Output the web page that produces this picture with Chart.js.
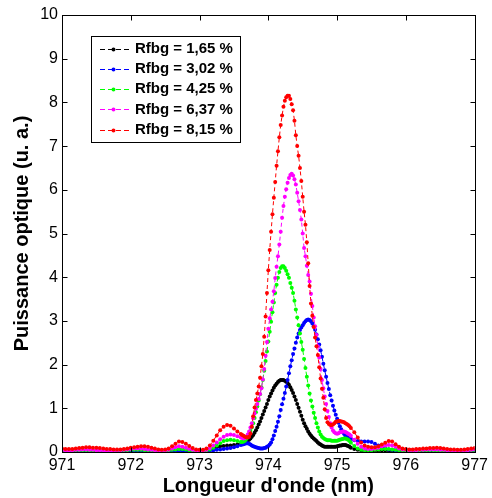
<!DOCTYPE html>
<html>
<head>
<meta charset="utf-8">
<title>Puissance optique</title>
<script src="https://cdn.jsdelivr.net/npm/chart.js@4.4.1/dist/chart.umd.min.js"></script>
<style>
  html, body { margin: 0; padding: 0; background: #fff; }
  #spectre { display: block; }
</style>
</head>
<body>
<canvas id="spectre" width="492" height="498"></canvas>
<script>
// Longueurs d'onde (nm) : pas de 0,05 nm sur les ailes, 0,02 nm autour des pics
const wavelength = [
  971.00, 971.05, 971.10, 971.15, 971.20, 971.25, 971.30, 971.35, 971.40, 971.45,
  971.50, 971.55, 971.60, 971.65, 971.70, 971.75, 971.80, 971.85, 971.90, 971.95,
  972.00, 972.05, 972.10, 972.15, 972.20, 972.25, 972.30, 972.35, 972.40, 972.45,
  972.50, 972.55, 972.60, 972.65, 972.70, 972.75, 972.80, 972.85, 972.90, 972.95,
  973.00, 973.05, 973.10, 973.15, 973.20, 973.25, 973.30, 973.35, 973.40, 973.45,
  973.50, 973.55, 973.60,
  973.62, 973.64, 973.66, 973.68, 973.70, 973.72, 973.74, 973.76, 973.78, 973.80,
  973.82, 973.84, 973.86, 973.88, 973.90, 973.92, 973.94, 973.96, 973.98, 974.00,
  974.02, 974.04, 974.06, 974.08, 974.10, 974.12, 974.14, 974.16, 974.18, 974.20,
  974.22, 974.24, 974.26, 974.28, 974.30, 974.32, 974.34, 974.36, 974.38, 974.40,
  974.42, 974.44, 974.46, 974.48, 974.50, 974.52, 974.54, 974.56, 974.58, 974.60,
  974.62, 974.64, 974.66, 974.68, 974.70, 974.72, 974.74, 974.76, 974.78, 974.80,
  974.82, 974.84, 974.86, 974.88, 974.90, 974.92, 974.94, 974.96, 974.98, 975.00,
  975.02, 975.04, 975.06, 975.08, 975.10, 975.12, 975.14, 975.16, 975.18, 975.20,
  975.25, 975.30, 975.35, 975.40, 975.45, 975.50, 975.55, 975.60, 975.65, 975.70,
  975.75, 975.80, 975.85, 975.90, 975.95,
  976.00, 976.05, 976.10, 976.15, 976.20, 976.25, 976.30, 976.35, 976.40, 976.45,
  976.50, 976.55, 976.60, 976.65, 976.70, 976.75, 976.80, 976.85, 976.90, 976.95,
  977.00
];

// Puissance optique (u. a.) pour chaque réflectivité du réseau de Bragg
const rfbg165 = [
  0.02, 0.02, 0.02, 0.02, 0.03, 0.03, 0.03, 0.03, 0.03, 0.02,
  0.02, 0.02, 0.02, 0.02, 0.02, 0.02, 0.02, 0.02, 0.03, 0.03,
  0.03, 0.03, 0.03, 0.03, 0.03, 0.02, 0.02, 0.02, 0.02, 0.02,
  0.02, 0.02, 0.03, 0.04, 0.05, 0.05, 0.04, 0.03, 0.02, 0.02,
  0.02, 0.02, 0.03, 0.05, 0.08, 0.11, 0.13, 0.14, 0.15, 0.15,
  0.16, 0.17, 0.18,
  0.19, 0.20, 0.22, 0.24, 0.26, 0.28, 0.31, 0.35, 0.39, 0.44,
  0.50, 0.56, 0.63, 0.70, 0.78, 0.86, 0.94, 1.02, 1.10, 1.19,
  1.27, 1.34, 1.41, 1.47, 1.52, 1.56, 1.60, 1.63, 1.65, 1.65,
  1.65, 1.63, 1.61, 1.58, 1.54, 1.48, 1.42, 1.35, 1.27, 1.19,
  1.10, 1.01, 0.92, 0.83, 0.74, 0.66, 0.59, 0.53, 0.47, 0.42,
  0.38, 0.34, 0.31, 0.28, 0.25, 0.22, 0.19, 0.17, 0.15, 0.13,
  0.12, 0.12, 0.12, 0.12, 0.12, 0.12, 0.12, 0.12, 0.12, 0.13,
  0.14, 0.15, 0.15, 0.16, 0.16, 0.16, 0.15, 0.14, 0.12, 0.10,
  0.07, 0.05, 0.04, 0.03, 0.03, 0.03, 0.03, 0.04, 0.04, 0.04,
  0.04, 0.03, 0.03, 0.02, 0.02,
  0.02, 0.02, 0.02, 0.02, 0.02, 0.03, 0.03, 0.03, 0.03, 0.02,
  0.02, 0.02, 0.02, 0.02, 0.02, 0.02, 0.02, 0.02, 0.03, 0.03,
  0.03
];

const rfbg302 = [
  0.02, 0.02, 0.02, 0.02, 0.02, 0.02, 0.02, 0.02, 0.02, 0.02,
  0.02, 0.02, 0.02, 0.02, 0.02, 0.02, 0.02, 0.02, 0.02, 0.02,
  0.03, 0.03, 0.03, 0.03, 0.03, 0.02, 0.02, 0.02, 0.02, 0.02,
  0.02, 0.02, 0.02, 0.03, 0.03, 0.03, 0.03, 0.02, 0.02, 0.02,
  0.02, 0.02, 0.02, 0.03, 0.04, 0.05, 0.06, 0.07, 0.08, 0.09,
  0.11, 0.13, 0.16,
  0.17, 0.18, 0.19, 0.20, 0.20, 0.19, 0.17, 0.15, 0.13, 0.12,
  0.11, 0.10, 0.09, 0.08, 0.08, 0.08, 0.09, 0.10, 0.12, 0.14,
  0.17, 0.22, 0.29, 0.38, 0.48, 0.58, 0.69, 0.82, 0.96, 1.09,
  1.22, 1.35, 1.50, 1.65, 1.80, 1.96, 2.10, 2.24, 2.37, 2.50,
  2.62, 2.71, 2.79, 2.85, 2.90, 2.95, 2.99, 3.02, 3.03, 3.02,
  2.99, 2.94, 2.88, 2.80, 2.69, 2.58, 2.46, 2.33, 2.18, 2.02,
  1.87, 1.72, 1.58, 1.44, 1.30, 1.18, 1.06, 0.95, 0.85, 0.76,
  0.67, 0.59, 0.52, 0.46, 0.42, 0.38, 0.35, 0.33, 0.31, 0.30,
  0.27, 0.25, 0.24, 0.24, 0.24, 0.23, 0.19, 0.15, 0.11, 0.08,
  0.06, 0.05, 0.04, 0.04, 0.03,
  0.03, 0.03, 0.03, 0.03, 0.03, 0.03, 0.03, 0.04, 0.04, 0.04,
  0.04, 0.04, 0.03, 0.03, 0.03, 0.03, 0.03, 0.03, 0.03, 0.03,
  0.03
];

const rfbg425 = [
  0.03, 0.03, 0.03, 0.03, 0.04, 0.04, 0.04, 0.04, 0.04, 0.03,
  0.03, 0.03, 0.03, 0.02, 0.02, 0.03, 0.03, 0.03, 0.04, 0.04,
  0.05, 0.05, 0.05, 0.05, 0.04, 0.04, 0.03, 0.03, 0.02, 0.02,
  0.03, 0.03, 0.05, 0.06, 0.07, 0.07, 0.06, 0.04, 0.03, 0.02,
  0.02, 0.02, 0.03, 0.06, 0.10, 0.15, 0.20, 0.25, 0.27, 0.28,
  0.27, 0.25, 0.23,
  0.23, 0.24, 0.26, 0.30, 0.35, 0.41, 0.48, 0.56, 0.66, 0.78,
  0.91, 1.04, 1.18, 1.32, 1.48, 1.65, 1.86, 2.08, 2.30, 2.53,
  2.75, 2.98, 3.20, 3.42, 3.64, 3.83, 3.99, 4.12, 4.21, 4.25,
  4.25, 4.21, 4.15, 4.07, 3.99, 3.87, 3.76, 3.64, 3.46, 3.26,
  3.08, 2.90, 2.71, 2.52, 2.34, 2.13, 1.92, 1.72, 1.52, 1.34,
  1.18, 1.04, 0.90, 0.78, 0.66, 0.56, 0.47, 0.40, 0.35, 0.32,
  0.30, 0.28, 0.27, 0.27, 0.27, 0.26, 0.26, 0.26, 0.26, 0.26,
  0.27, 0.28, 0.29, 0.30, 0.31, 0.31, 0.30, 0.28, 0.25, 0.21,
  0.14, 0.08, 0.05, 0.04, 0.04, 0.04, 0.05, 0.06, 0.07, 0.07,
  0.07, 0.06, 0.05, 0.04, 0.03,
  0.03, 0.03, 0.03, 0.03, 0.03, 0.04, 0.04, 0.04, 0.04, 0.03,
  0.03, 0.03, 0.03, 0.03, 0.03, 0.03, 0.03, 0.03, 0.04, 0.04,
  0.04
];

const rfbg637 = [
  0.04, 0.04, 0.03, 0.04, 0.05, 0.05, 0.06, 0.06, 0.05, 0.05,
  0.04, 0.04, 0.03, 0.03, 0.03, 0.03, 0.04, 0.04, 0.05, 0.06,
  0.07, 0.08, 0.08, 0.08, 0.07, 0.06, 0.05, 0.04, 0.03, 0.03,
  0.04, 0.05, 0.08, 0.11, 0.13, 0.12, 0.10, 0.07, 0.05, 0.03,
  0.03, 0.03, 0.05, 0.09, 0.15, 0.22, 0.29, 0.35, 0.39, 0.40,
  0.39, 0.36, 0.33,
  0.32, 0.31, 0.32, 0.35, 0.40, 0.47, 0.56, 0.66, 0.77, 0.88,
  0.99, 1.10, 1.21, 1.33, 1.46, 1.66, 1.90, 2.20, 2.52, 2.82,
  3.06, 3.26, 3.44, 3.68, 3.98, 4.24, 4.48, 4.75, 5.04, 5.36,
  5.63, 5.84, 6.01, 6.16, 6.27, 6.34, 6.37, 6.33, 6.24, 6.12,
  5.93, 5.74, 5.54, 5.32, 5.00, 4.67, 4.48, 4.26, 4.05, 3.90,
  3.62, 3.34, 3.08, 2.88, 2.68, 2.42, 2.16, 1.90, 1.65, 1.46,
  1.27, 1.10, 0.94, 0.80, 0.66, 0.56, 0.49, 0.45, 0.43, 0.42,
  0.43, 0.45, 0.46, 0.47, 0.47, 0.46, 0.44, 0.42, 0.40, 0.37,
  0.28, 0.19, 0.12, 0.08, 0.07, 0.07, 0.08, 0.10, 0.13, 0.15,
  0.16, 0.15, 0.12, 0.08, 0.06,
  0.05, 0.04, 0.04, 0.04, 0.05, 0.05, 0.06, 0.06, 0.06, 0.06,
  0.05, 0.05, 0.04, 0.04, 0.03, 0.03, 0.03, 0.04, 0.04, 0.05,
  0.06
];

const rfbg815 = [
  0.08, 0.07, 0.07, 0.07, 0.08, 0.09, 0.10, 0.11, 0.11, 0.10,
  0.10, 0.09, 0.08, 0.07, 0.07, 0.06, 0.06, 0.06, 0.07, 0.08,
  0.10, 0.11, 0.12, 0.13, 0.13, 0.12, 0.10, 0.08, 0.06, 0.05,
  0.06, 0.08, 0.13, 0.19, 0.24, 0.23, 0.19, 0.14, 0.09, 0.06,
  0.05, 0.05, 0.08, 0.15, 0.26, 0.38, 0.50, 0.58, 0.62, 0.60,
  0.54, 0.47, 0.41,
  0.39, 0.37, 0.35, 0.34, 0.33, 0.35, 0.42, 0.58, 0.82, 1.02,
  1.19, 1.34, 1.50, 1.70, 1.96, 2.24, 2.64, 3.10, 3.64, 4.16,
  4.62, 5.04, 5.44, 5.82, 6.18, 6.55, 6.88, 7.20, 7.48, 7.70,
  7.90, 8.04, 8.12, 8.15, 8.15, 8.08, 7.96, 7.82, 7.58, 7.25,
  7.00, 6.78, 6.50, 6.20, 5.84, 5.50, 5.20, 4.80, 4.32, 3.80,
  3.40, 3.12, 2.86, 2.62, 2.42, 2.22, 1.94, 1.68, 1.45, 1.24,
  0.98, 0.78, 0.68, 0.64, 0.62, 0.62, 0.63, 0.66, 0.69, 0.70,
  0.71, 0.71, 0.70, 0.69, 0.68, 0.66, 0.64, 0.62, 0.59, 0.55,
  0.45, 0.33, 0.22, 0.15, 0.12, 0.11, 0.11, 0.13, 0.17, 0.21,
  0.25, 0.24, 0.18, 0.12, 0.08,
  0.07, 0.06, 0.06, 0.07, 0.07, 0.08, 0.08, 0.09, 0.09, 0.10,
  0.09, 0.08, 0.07, 0.06, 0.06, 0.05, 0.05, 0.06, 0.07, 0.08,
  0.09
];

const seriesValues = [rfbg165, rfbg302, rfbg425, rfbg637, rfbg815];
const seriesLabels = ["Rfbg = 1,65 %", "Rfbg = 3,02 %", "Rfbg = 4,25 %", "Rfbg = 6,37 %", "Rfbg = 8,15 %"];
const seriesColors = ["#000000", "#0000ff", "#00ff00", "#ff00ff", "#ff0000"];

const xTickValues = [971, 972, 973, 974, 975, 976, 977];
const yTickValues = [0, 1, 2, 3, 4, 5, 6, 7, 8, 9, 10];

const FONT = "'Liberation Sans', Arial, sans-serif";

// Cadre fermé, graduations vers l'intérieur et légende encadrée en haut à gauche
const cadrePlugin = {
    id: "cadre",
    afterDatasetsDraw(chart) {
        const { ctx, chartArea, scales } = chart;
        const left = Math.round(chartArea.left) + 0.5;
        const right = Math.round(chartArea.right) + 0.5;
        const top = Math.round(chartArea.top) + 0.5;
        const bottom = Math.round(chartArea.bottom) + 0.5;

        ctx.save();
        ctx.strokeStyle = "#000";
        ctx.lineWidth = 1;
        ctx.setLineDash([]);
        ctx.strokeRect(left, top, right - left, bottom - top);

        ctx.beginPath();
        xTickValues.forEach(function (v) {
            const px = Math.round(scales.x.getPixelForValue(v)) + 0.5;
            ctx.moveTo(px, bottom);
            ctx.lineTo(px, bottom - 5);
            ctx.moveTo(px, top);
            ctx.lineTo(px, top + 5);
        });
        yTickValues.forEach(function (v) {
            const py = Math.round(scales.y.getPixelForValue(v)) + 0.5;
            ctx.moveTo(left, py);
            ctx.lineTo(left + 5, py);
            ctx.moveTo(right, py);
            ctx.lineTo(right - 5, py);
        });
        ctx.stroke();

        // légende
        const boxX = 91.5, boxY = 36.5, boxW = 149, boxH = 106;
        ctx.fillStyle = "#fff";
        ctx.fillRect(boxX, boxY, boxW, boxH);
        ctx.strokeRect(boxX, boxY, boxW, boxH);

        ctx.font = "bold 15px " + FONT;
        ctx.textBaseline = "middle";
        ctx.textAlign = "left";
        chart.data.datasets.forEach(function (ds, i) {
            const y = 48.5 + i * 20.3;
            ctx.strokeStyle = ds.borderColor;
            ctx.setLineDash([5, 3]);
            ctx.beginPath();
            ctx.moveTo(100, Math.round(y) + 0.5);
            ctx.lineTo(129, Math.round(y) + 0.5);
            ctx.stroke();
            ctx.setLineDash([]);
            ctx.fillStyle = ds.borderColor;
            ctx.beginPath();
            ctx.arc(113.5, Math.round(y) + 0.5, 2, 0, Math.PI * 2);
            ctx.fill();
            ctx.fillStyle = "#000";
            ctx.fillText(ds.label, 135, y);
        });
        ctx.restore();
    },
};

const datasets = seriesValues.map(function (values, i) {
    return {
        label: seriesLabels[i],
        data: wavelength.map(function (x, k) {
            return { x: x, y: values[k] };
        }),
        borderColor: seriesColors[i],
        backgroundColor: seriesColors[i],
        borderWidth: 1,
        borderDash: [4, 3],
        pointRadius: 2,
        pointBorderWidth: 0,
        pointBackgroundColor: seriesColors[i],
        fill: false,
        tension: 0,
        // la dernière courbe (8,15 %) passe au premier plan
        order: seriesValues.length - i,
    };
});

new Chart(document.getElementById("spectre"), {
    type: "line",
    data: { datasets: datasets },
    options: {
        responsive: false,
        animation: false,
        events: [],
        layout: {
            padding: { top: 15, right: 14, bottom: 0, left: 0 },
        },
        plugins: {
            legend: { display: false },
            tooltip: { enabled: false },
        },
        scales: {
            x: {
                type: "linear",
                min: 971,
                max: 977,
                afterBuildTicks: function (scale) {
                    scale.ticks = xTickValues.map(function (v) { return { value: v }; });
                },
                afterFit: function (scale) {
                    scale.height = 46;
                },
                grid: { display: false, drawTicks: false },
                border: { display: false },
                ticks: {
                    color: "#000",
                    padding: 4,
                    maxRotation: 0,
                    font: { family: FONT, size: 16 },
                },
                title: {
                    display: true,
                    text: "Longueur d'onde (nm)",
                    color: "#000",
                    padding: { top: 0, bottom: 0 },
                    font: { family: FONT, size: 20, weight: "bold" },
                },
            },
            y: {
                type: "linear",
                min: 0,
                max: 10,
                afterBuildTicks: function (scale) {
                    scale.ticks = yTickValues.map(function (v) { return { value: v }; });
                },
                afterFit: function (scale) {
                    scale.width = 62;
                },
                grid: { display: false, drawTicks: false },
                border: { display: false },
                ticks: {
                    color: "#000",
                    padding: 4,
                    font: { family: FONT, size: 16 },
                },
                title: {
                    display: true,
                    text: "Puissance optique (u. a.)",
                    color: "#000",
                    padding: { top: 10, bottom: 0 },
                    font: { family: FONT, size: 20, weight: "bold" },
                },
            },
        },
    },
    plugins: [cadrePlugin],
});
</script>
</body>
</html>
